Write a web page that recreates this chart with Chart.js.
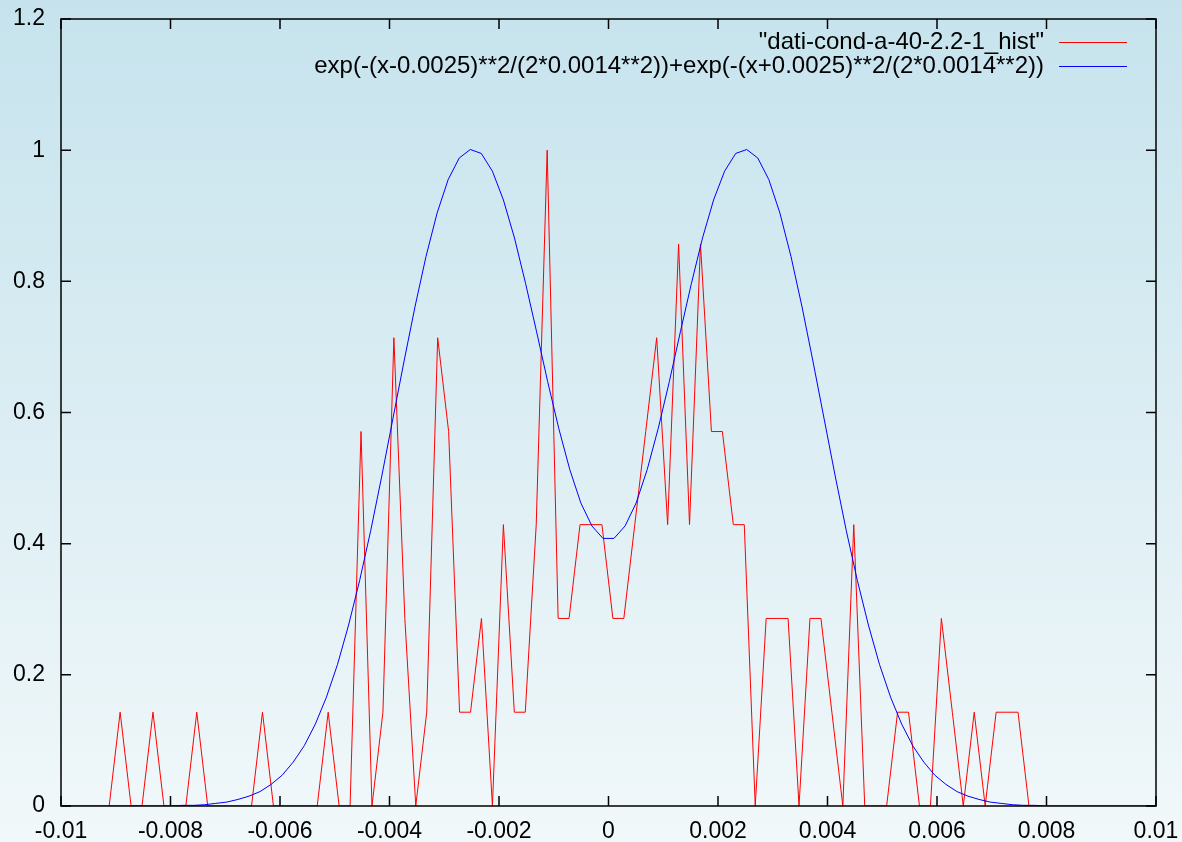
<!DOCTYPE html>
<html>
<head>
<meta charset="utf-8">
<script src="https://cdn.jsdelivr.net/npm/chart.js@4"></script>
<style>
  html, body { margin: 0; padding: 0; background: #f0f7fa; }
  #wrap { width: 1182px; height: 842px; }
</style>
</head>
<body>
<div id="wrap"><canvas id="ch"></canvas></div>
<script>
const seriesLabels = ['"dati-cond-a-40-2.2-1_hist"', 'exp(-(x-0.0025)**2/(2*0.0014**2))+exp(-(x+0.0025)**2/(2*0.0014**2))'];
const seriesColors = ['#ff0000', '#0000ff'];

// histogram (red)
const histX = [
  -0.00912, -0.00892, -0.00872, -0.00852, -0.00832, -0.00812, -0.00792, -0.00772, -0.00752, -0.00732,
  -0.00712, -0.00692, -0.00672, -0.00652, -0.00632, -0.00612, -0.00592, -0.00572, -0.00552, -0.00532,
  -0.00512, -0.00492, -0.00472, -0.00452, -0.00432, -0.00412, -0.00392, -0.00372, -0.00352, -0.00332,
  -0.00312, -0.00292, -0.00272, -0.00252, -0.00232, -0.00212, -0.00192, -0.00172, -0.00152, -0.00132,
  -0.00112, -0.00092, -0.00072, -0.00052, -0.00032, -0.00012, 0.00008, 0.00028, 0.00048, 0.00068,
  0.00088, 0.00108, 0.00128, 0.00148, 0.00168, 0.00188, 0.00208, 0.00228, 0.00248, 0.00268,
  0.00288, 0.00308, 0.00328, 0.00348, 0.00368, 0.00388, 0.00408, 0.00428, 0.00448, 0.00468,
  0.00488, 0.00508, 0.00528, 0.00548, 0.00568, 0.00588, 0.00608, 0.00628, 0.00648, 0.00668,
  0.00688, 0.00708, 0.00728, 0.00748, 0.00768
];
const histY = [
  0, 0.143, 0, 0, 0.143, 0, 0, 0, 0.143, 0,
  0, 0, 0, 0, 0.143, 0, 0, 0, 0, 0,
  0.143, 0, 0, 0.571, 0, 0.143, 0.714, 0.286, 0, 0.143,
  0.714, 0.571, 0.143, 0.143, 0.286, 0, 0.429, 0.143, 0.143, 0.429,
  1, 0.286, 0.286, 0.429, 0.429, 0.429, 0.286, 0.286, 0.429, 0.571,
  0.714, 0.429, 0.857, 0.429, 0.857, 0.571, 0.571, 0.429, 0.429, 0,
  0.286, 0.286, 0.286, 0, 0.286, 0.286, 0.143, 0, 0.429, 0,
  0, 0, 0.143, 0.143, 0, 0, 0.286, 0.143, 0, 0.143,
  0, 0.143, 0.143, 0.143, 0
];

// double gaussian curve (blue), sampled points
const fitX = [
  -0.010000, -0.009798, -0.009596, -0.009394, -0.009192, -0.008990, -0.008788, -0.008586, -0.008384, -0.008182,
  -0.007980, -0.007778, -0.007576, -0.007374, -0.007172, -0.006970, -0.006768, -0.006566, -0.006364, -0.006162,
  -0.005960, -0.005758, -0.005556, -0.005354, -0.005152, -0.004949, -0.004747, -0.004545, -0.004343, -0.004141,
  -0.003939, -0.003737, -0.003535, -0.003333, -0.003131, -0.002929, -0.002727, -0.002525, -0.002323, -0.002121,
  -0.001919, -0.001717, -0.001515, -0.001313, -0.001111, -0.000909, -0.000707, -0.000505, -0.000303, -0.000101,
  0.000101, 0.000303, 0.000505, 0.000707, 0.000909, 0.001111, 0.001313, 0.001515, 0.001717, 0.001919,
  0.002121, 0.002323, 0.002525, 0.002727, 0.002929, 0.003131, 0.003333, 0.003535, 0.003737, 0.003939,
  0.004141, 0.004343, 0.004545, 0.004747, 0.004949, 0.005152, 0.005354, 0.005556, 0.005758, 0.005960,
  0.006162, 0.006364, 0.006566, 0.006768, 0.006970, 0.007172, 0.007374, 0.007576, 0.007778, 0.007980,
  0.008182, 0.008384, 0.008586, 0.008788, 0.008990, 0.009192, 0.009394, 0.009596, 0.009798, 0.010000
];
const fitY = [
  0, 0, 0, 0, 0, 0, 0, 0, 0, 0,
  0, 0.001, 0.001, 0.002, 0.004, 0.006, 0.010, 0.015, 0.022, 0.033,
  0.047, 0.067, 0.092, 0.125, 0.166, 0.216, 0.276, 0.344, 0.420, 0.503,
  0.590, 0.677, 0.761, 0.838, 0.904, 0.955, 0.988, 1.001, 0.995, 0.968,
  0.924, 0.866, 0.797, 0.723, 0.647, 0.576, 0.513, 0.462, 0.427, 0.408,
  0.408, 0.427, 0.462, 0.513, 0.576, 0.647, 0.723, 0.797, 0.866, 0.924,
  0.968, 0.995, 1.001, 0.988, 0.955, 0.904, 0.838, 0.761, 0.677, 0.590,
  0.503, 0.420, 0.344, 0.276, 0.216, 0.166, 0.125, 0.092, 0.067, 0.047,
  0.033, 0.022, 0.015, 0.010, 0.006, 0.004, 0.002, 0.001, 0.001, 0,
  0, 0, 0, 0, 0, 0, 0, 0, 0, 0
];

const xTicks = [-0.01, -0.008, -0.006, -0.004, -0.002, 0, 0.002, 0.004, 0.006, 0.008, 0.01];
const yTicks = [0, 0.2, 0.4, 0.6, 0.8, 1, 1.2];

const FONT = 'Liberation Sans, Arial, Helvetica, sans-serif';
const fmt = v => String(+v.toFixed(4));

const bgPlugin = {
  id: 'bg',
  beforeDraw(chart) {
    const { ctx, width, height } = chart;
    const g = ctx.createLinearGradient(0, 0, 0, height);
    g.addColorStop(0, '#c6e3ed');
    g.addColorStop(1, '#f1f8fa');
    ctx.save();
    ctx.fillStyle = g;
    ctx.fillRect(0, 0, width, height);
    ctx.restore();
  }
};

// frame with inward ticks on all four sides, gnuplot style
const framePlugin = {
  id: 'frame',
  afterDatasetsDraw(chart) {
    const { ctx, chartArea: { left, right, top, bottom }, scales: { x, y } } = chart;
    ctx.save();
    ctx.strokeStyle = '#000';
    ctx.lineWidth = 1.5;
    ctx.beginPath();
    xTicks.forEach(v => {
      const px = x.getPixelForValue(v);
      ctx.moveTo(px, bottom); ctx.lineTo(px, bottom - 10);
      ctx.moveTo(px, top); ctx.lineTo(px, top + 10);
    });
    yTicks.forEach(v => {
      const py = y.getPixelForValue(v);
      ctx.moveTo(left, py); ctx.lineTo(left + 10, py);
      ctx.moveTo(right, py); ctx.lineTo(right - 10, py);
    });
    ctx.stroke();
    ctx.strokeRect(left, top, right - left, bottom - top);
    ctx.restore();
  }
};

// key in the top right corner: text right-aligned, sample line after it
const keyPlugin = {
  id: 'key',
  afterDraw(chart) {
    const ctx = chart.ctx;
    ctx.save();
    ctx.font = '24px ' + FONT;
    ctx.textAlign = 'right';
    ctx.textBaseline = 'middle';
    chart.data.datasets.forEach((ds, i) => {
      const yy = 42 + i * 24;
      ctx.fillStyle = '#000';
      ctx.fillText(seriesLabels[i], 1044, yy);
      ctx.strokeStyle = seriesColors[i];
      ctx.lineWidth = 1;
      ctx.beginPath();
      ctx.moveTo(1059, yy + 0.5); ctx.lineTo(1127, yy + 0.5);
      ctx.stroke();
    });
    ctx.restore();
  }
};

new Chart(document.getElementById('ch'), {
  type: 'line',
  data: {
    datasets: [
      { label: seriesLabels[0], data: histX.map((v, i) => ({ x: v, y: histY[i] })),
        borderColor: seriesColors[0], borderWidth: 1, pointRadius: 0, tension: 0, fill: false, order: 1 },
      { label: seriesLabels[1], data: fitX.map((v, i) => ({ x: v, y: fitY[i] })),
        borderColor: seriesColors[1], borderWidth: 1, pointRadius: 0, tension: 0, fill: false, order: 0 }
    ]
  },
  options: {
    responsive: true, maintainAspectRatio: false, animation: false,
    layout: { padding: { top: 19, right: 26, left: 0, bottom: 0 } },
    plugins: { legend: { display: false }, tooltip: { enabled: false } },
    scales: {
      x: {
        type: 'linear', min: -0.01, max: 0.01,
        afterBuildTicks: s => { s.ticks = xTicks.map(v => ({ value: v })); },
        afterFit: s => { s.height = 36; },
        grid: { display: false, drawTicks: true, tickLength: 12 },
        border: { display: false },
        ticks: { callback: fmt, color: '#000', padding: 0, maxRotation: 0, autoSkip: false, font: { family: FONT, size: 23 } }
      },
      y: {
        type: 'linear', min: 0, max: 1.2,
        afterBuildTicks: s => { s.ticks = yTicks.map(v => ({ value: v })); },
        afterFit: s => { s.width = 61; },
        grid: { display: false, drawTicks: true, tickLength: 16 },
        border: { display: false },
        ticks: { callback: fmt, color: '#000', padding: 0, font: { family: FONT, size: 23 } }
      }
    }
  },
  plugins: [bgPlugin, framePlugin, keyPlugin]
});
</script>
</body>
</html>
